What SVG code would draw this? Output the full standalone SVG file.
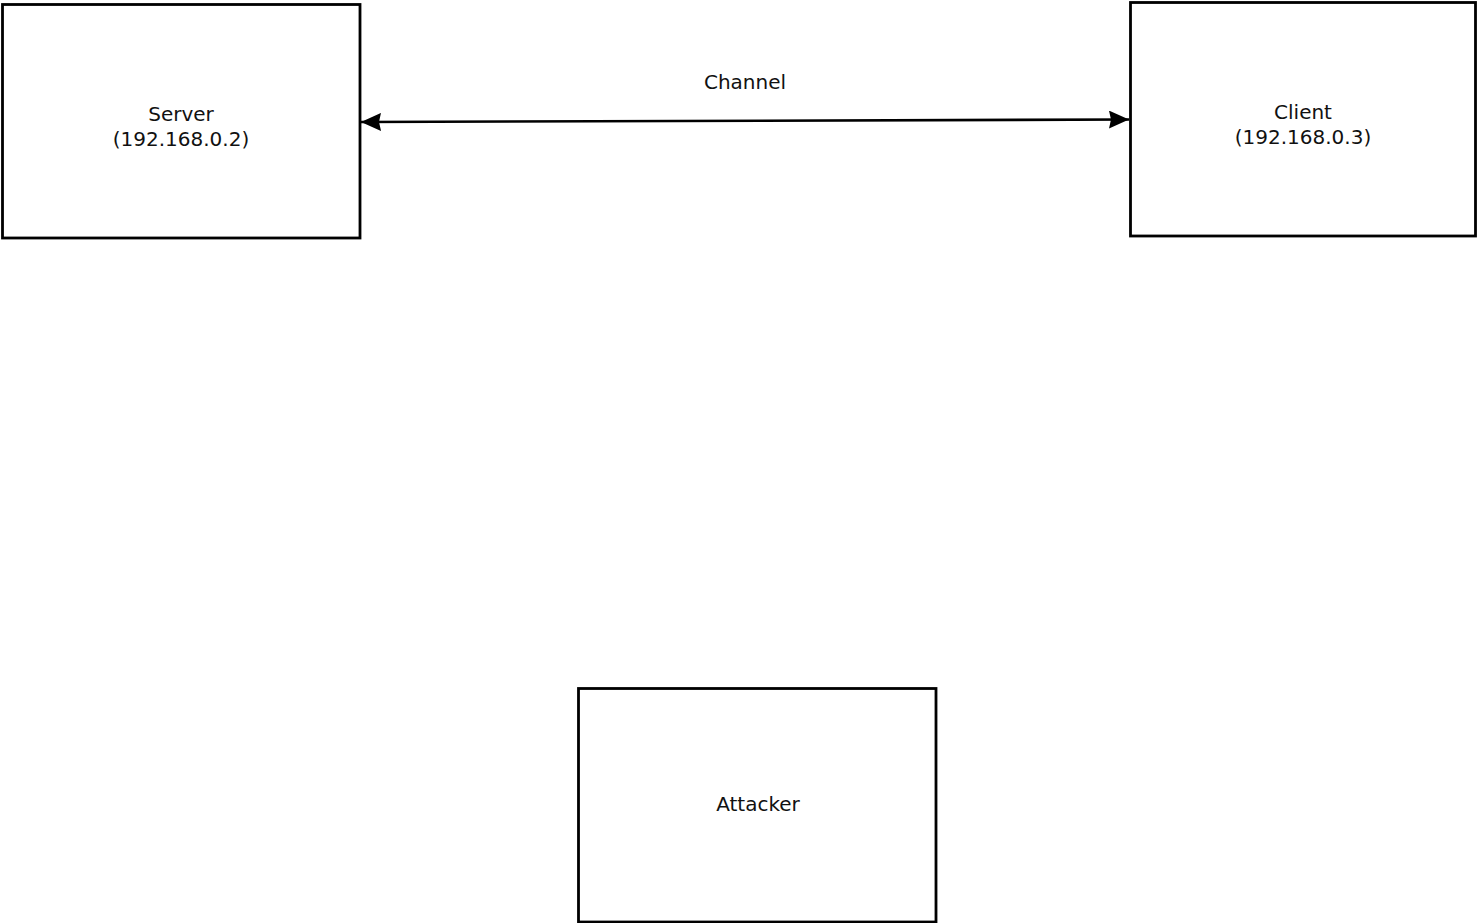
<svg xmlns="http://www.w3.org/2000/svg" width="1477" height="923" viewBox="0 0 1477 923">
<style>
.box{fill:#fff;stroke:#000;stroke-width:2.8}
.lbl{font-family:"DejaVu Sans",sans-serif;font-size:20px;fill:#111;text-anchor:middle}
.edge{stroke:#000;stroke-width:2.6;fill:none}
</style>
<defs>
<marker id="ah" viewBox="0 0 20 18" refX="20" refY="9" markerWidth="20" markerHeight="18" markerUnits="userSpaceOnUse" orient="auto-start-reverse">
<path d="M0,0 L20,9 L0,18 L2,9 Z" fill="#000"/>
</marker>
</defs>
<rect width="1477" height="923" fill="#fff"/>
<g id="connectors">
<path class="edge" d="M361,122 L1129,119.5" marker-start="url(#ah)" marker-end="url(#ah)"/>
<text class="lbl" x="745" y="89">Channel</text>
</g>
<g id="server">
<rect class="box" x="2.5" y="4.5" width="357.5" height="233.5"/>
<text class="lbl" x="181" y="121">Server</text>
<text class="lbl" x="181" y="146">(192.168.0.2)</text>
</g>
<g id="client">
<rect class="box" x="1130.5" y="2.5" width="345" height="233.5"/>
<text class="lbl" x="1303" y="119">Client</text>
<text class="lbl" x="1303" y="144">(192.168.0.3)</text>
</g>
<g id="attacker">
<rect class="box" x="578.5" y="688.5" width="357.5" height="233.5"/>
<text class="lbl" x="758" y="811">Attacker</text>
</g>
</svg>
